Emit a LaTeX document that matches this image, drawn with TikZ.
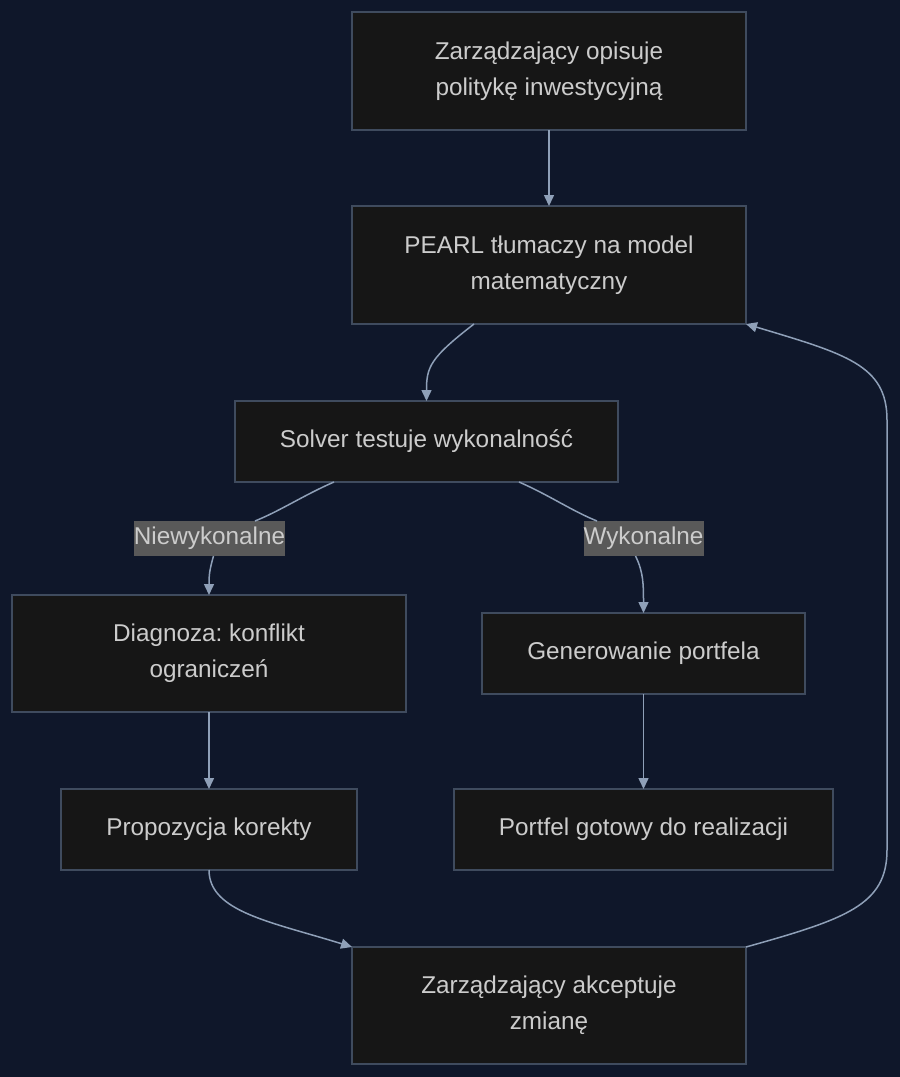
\documentclass[tikz,border=0pt]{standalone}
\usepackage{fontspec}
\setmainfont{Liberation Sans}
\usetikzlibrary{arrows.meta}
\definecolor{bgc}{HTML}{0F172A}
\definecolor{boxfill}{HTML}{161616}
\definecolor{boxline}{HTML}{3F4B5E}
\definecolor{edgec}{HTML}{8FA0B8}
\definecolor{txtc}{HTML}{CCCCCC}
\definecolor{lblfill}{HTML}{595959}
\frenchspacing
\tikzset{
  box/.style={draw=boxline, fill=boxfill, line width=1.2pt, inner sep=0pt, outer sep=0pt,
    align=center, text=txtc, font=\fontsize{24.3}{36}\selectfont},
  lbl/.style={fill=lblfill, inner sep=0pt, outer sep=0pt, text=txtc,
    font=\fontsize{24.3}{36}\selectfont, minimum height=35pt},
  edge/.style={draw=edgec, line width=1.5pt},
  arr/.style={edge, -{Triangle[length=11pt,width=10pt]}}
}
\begin{document}
\begin{tikzpicture}[x=1pt,y=1pt]
\fill[bgc] (0,0) rectangle (900,-1077);
\useasboundingbox (0,0) rectangle (900,-1077);

\node[box, minimum width=394pt, minimum height=118pt] (A) at (549,-71) {Zarządzający opisuje\\ politykę inwestycyjną};
\node[box, minimum width=394pt, minimum height=118pt] (B) at (549,-265) {PEARL tłumaczy na model\\ matematyczny};
\node[box, minimum width=383pt, minimum height=81pt] (C) at (426.5,-441.5) {Solver testuje wykonalność};
\node[lbl, minimum width=151pt] (NL) at (209.5,-538.5) {Niewykonalne};
\node[lbl, minimum width=119pt] (WL) at (643.5,-538.5) {Wykonalne};
\node[box, minimum width=394pt, minimum height=117pt] (D) at (209,-653.5) {Diagnoza: konflikt\\ ograniczeń};
\node[box, minimum width=323pt, minimum height=81pt] (E) at (643.5,-653.5) {Generowanie portfela};
\node[box, minimum width=296pt, minimum height=81pt] (F) at (209,-829.5) {Propozycja korekty};
\node[box, minimum width=379pt, minimum height=81pt] (G) at (643.5,-829.5) {Portfel gotowy do realizacji};
\node[box, minimum width=394pt, minimum height=117pt] (H) at (549,-1005.5) {Zarządzający akceptuje\\ zmianę};

\draw[arr] (A.south) -- (B.north);
\draw[arr] ([xshift=-75pt]B.south) .. controls +(-44,-34) and +(0,34) .. (C.north);
\draw[edge] ([xshift=-92.5pt]C.south) .. controls +(-30,-13) and +(25,10) .. ([xshift=45.5pt]NL.north);
\draw[arr] ([xshift=4pt]NL.south) .. controls +(-4,-14) and +(0,20) .. (D.north);
\draw[edge] ([xshift=92.5pt]C.south) .. controls +(30,-13) and +(-25,10) .. ([xshift=-46.5pt]WL.north);
\draw[arr] ([xshift=-8pt]WL.south) .. controls +(8,-16) and +(0,28) .. (E.north);
\draw[arr] (D.south) -- (F.north);
\draw[arr] (E.south) -- (G.north);
\draw[arr] (F.south) .. controls +(0,-42) and +(-80,25) .. (H.north west);
\draw[arr] (H.north east) .. controls +(100,28) and +(0,-55) .. ([xshift=141pt,yshift=97pt]H.north east)
  -- ([xshift=141pt,yshift=-96pt]B.south east) .. controls +(0,55) and +(100,-30) .. (B.south east);
\end{tikzpicture}
\end{document}
